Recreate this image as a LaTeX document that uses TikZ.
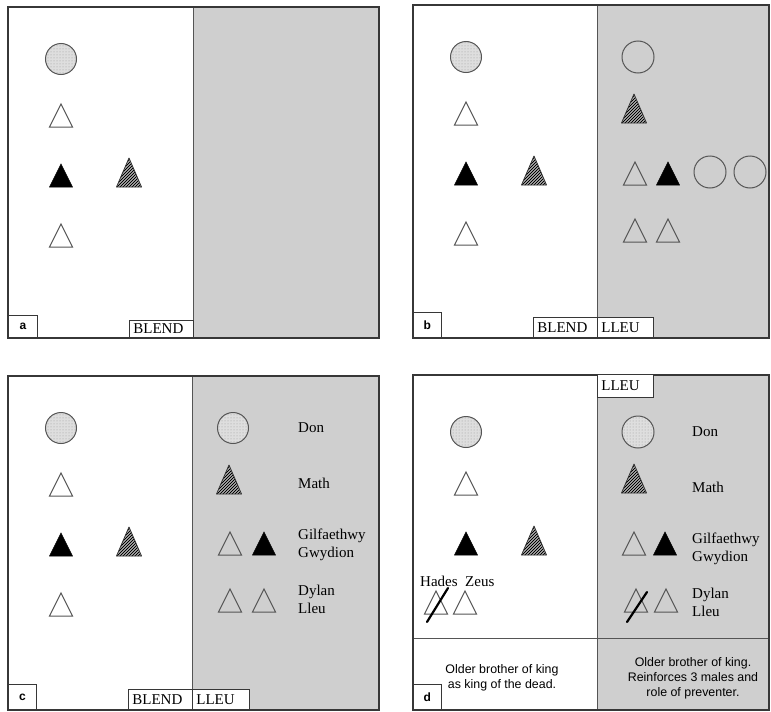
\documentclass[tikz,border=0pt]{standalone}
\usepackage{fontspec}
\setmainfont{Liberation Serif}
\setsansfont{Liberation Sans}
\usetikzlibrary{patterns}
\definecolor{panelgray}{RGB}{207,207,207}
\definecolor{framecolor}{RGB}{55,55,55}
\definecolor{shapecolor}{RGB}{85,85,85}
\definecolor{stipplecolor}{RGB}{222,222,222}

\tikzset{
  tri/.pic={\path[pic actions] (-11.5,0) -- (0,-23) -- (11.5,0) -- cycle;},
  hatchtri/.pic={
    \begin{scope}
      \clip (-12.5,0) -- (0,-29) -- (12.5,0) -- cycle;
      \fill[gray!45] (-13,1) rectangle (13,-30);
      \foreach \k in {-45,-42,...,15}
        \draw[black, line width=1pt] (\k,3) -- ++(36,-36);
    \end{scope}
    \draw[black!80, line width=0.8pt, line join=round] (-12.5,0) -- (0,-29) -- (12.5,0) -- cycle;},
  frame/.style={draw=framecolor, line width=1.3pt},
  divider/.style={draw=framecolor!85, line width=0.8pt},
  hollow/.style={draw=shapecolor, line width=1pt},
  solidtri/.style={fill=black, draw=black, line width=0.6pt},
  stipple/.style={draw=shapecolor, line width=1pt, preaction={fill=stipplecolor},
    pattern=dots, pattern color=gray!80},
  slash/.style={draw=black, line width=2.2pt, line cap=round},
  tagbox/.style={draw=framecolor, fill=white, line width=0.8pt, anchor=south west,
    inner sep=0pt, font=\sffamily\bfseries\fontsize{12}{12}\selectfont},
  namebox/.style={draw=framecolor, fill=white, line width=0.8pt, anchor=south west,
    inner xsep=4pt, inner ysep=0pt, align=left, font=\fontsize{15}{15}\selectfont},
  who/.style={anchor=west, align=left, inner sep=0pt, font=\fontsize{15}{18}\selectfont},
  note/.style={align=center, inner sep=0pt, font=\sffamily\fontsize{12.4}{15}\selectfont},
}

\begin{document}
\begin{tikzpicture}[x=1pt, y=-1pt]
  \useasboundingbox (0,0) rectangle (771,712);

  % grey halves and dividers
  \fill[panelgray] (193,7) rectangle (379,338);
  \fill[panelgray] (597,5) rectangle (769,338);
  \fill[panelgray] (192,376) rectangle (379,710);
  \fill[panelgray] (597,375) rectangle (769,710);
  \draw[divider] (193,7) -- (193,338);
  \draw[divider] (597,5) -- (597,338);
  \draw[divider] (192,376) -- (192,710);
  \draw[divider] (597,375) -- (597,710);
  \draw[divider] (413,638) -- (769,638);

  % left halves: the blend
  \foreach \px/\py/\cy in {8/7/52, 413/5/52, 8/376/52, 413/375/57}{
    \begin{scope}[shift={(\px,\py)}]
      \draw[stipple] (53,\cy) circle (15.5);
      \pic[hollow] at (53,120) {tri};
      \pic[solidtri] at (53,180) {tri};
      \pic at (121,180) {hatchtri};
    \end{scope}
  }
  \foreach \px/\py in {8/7, 413/5, 8/376}
    \pic[hollow] at (\px+53,\py+240) {tri};

  % b: right half
  \draw[hollow] (638,57) circle (16);
  \pic at (634,123) {hatchtri};
  \pic[hollow] at (635,185) {tri};
  \pic[solidtri] at (668,185) {tri};
  \draw[hollow] (710,172) circle (16);
  \draw[hollow] (750,172) circle (16);
  \pic[hollow] at (635,242) {tri};
  \pic[hollow] at (668,242) {tri};

  % c: right half
  \draw[stipple] (233,428) circle (15.5);
  \pic at (229,494) {hatchtri};
  \pic[hollow] at (230,555) {tri};
  \pic[solidtri] at (264,555) {tri};
  \pic[hollow] at (230,612) {tri};
  \pic[hollow] at (264,612) {tri};
  \node[who] (cdon) at (298,428) {Don};
  \node[who] (cmath) at (298,483) {Math};
  \node[who] (cgil) at (298,545) {Gilfaethwy\\Gwydion};
  \node[who] (cdyl) at (298,599) {Dylan\\Lleu};

  % d: right half
  \draw[stipple] (638,432) circle (16);
  \pic at (634,493) {hatchtri};
  \pic[hollow] at (634,555) {tri};
  \pic[solidtri] at (665,555) {tri};
  \pic[hollow] at (636,612) {tri};
  \pic[hollow] at (666,612) {tri};
  \draw[slash] (627,622) -- (647,592);
  \node[who] (ddon) at (692,432) {Don};
  \node[who] (dmath) at (692,487) {Math};
  \node[who] (dgil) at (692,549) {Gilfaethwy\\Gwydion};
  \node[who] (ddyl) at (692,602) {Dylan\\Lleu};

  % d: left half bottom row
  \node[who] (hades) at (420,581) {Hades\ \ Zeus};
  \pic[hollow] at (436,614) {tri};
  \pic[hollow] at (465,614) {tri};
  \draw[slash] (427,622) -- (448,588);
  \node[note] (dleft) at (502,677.5) {Older brother of king\\as king of the dead.};
  \node[note] (dright) at (693,678) {Older brother of king.\\Reinforces 3 males and\\role of preventer.};

  % frames
  \draw[frame] (8,7) rectangle (379,338);
  \draw[frame] (413,5) rectangle (769,338);
  \draw[frame] (8,376) rectangle (379,710);
  \draw[frame] (413,375) rectangle (769,710);

  % tags and space names
  \node[tagbox, minimum width=29pt, minimum height=22pt] (taga) at (8,338) {a};
  \node[tagbox, minimum width=28pt, minimum height=25pt] (tagb) at (413,338) {b};
  \node[tagbox, minimum width=28pt, minimum height=25pt] (tagc) at (8,710) {c};
  \node[tagbox, minimum width=28pt, minimum height=25pt] (tagd) at (413,710) {d};
  \node[namebox, text width=56pt, minimum height=17pt] (ablend) at (129,338) {BLEND};
  \node[namebox, text width=56pt, minimum height=20pt] (bblend) at (533,338) {BLEND};
  \node[namebox, text width=48pt, minimum height=20pt] (blleu) at (597,338) {LLEU};
  \node[namebox, text width=56pt, minimum height=20pt] (cblend) at (128,710) {BLEND};
  \node[namebox, text width=49pt, minimum height=20pt] (clleu) at (192,710) {LLEU};
  \node[namebox, text width=48pt, minimum height=23pt] (dlleu) at (597,398) {LLEU};
\end{tikzpicture}
\end{document}
